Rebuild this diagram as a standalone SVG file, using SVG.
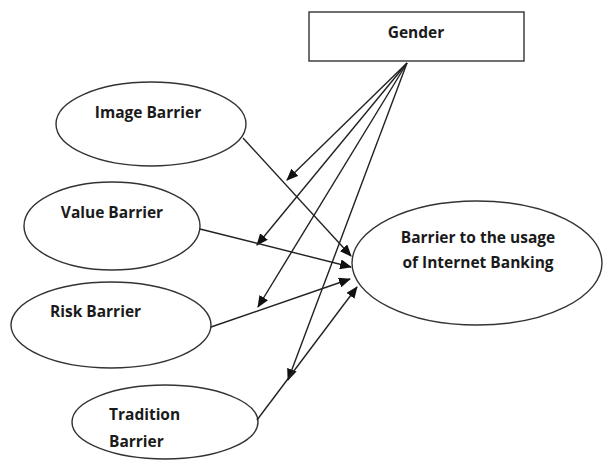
<svg xmlns="http://www.w3.org/2000/svg" width="603" height="460" viewBox="0 0 603 460">
<defs>
<style>
.shape{fill:#fff;stroke:#333;stroke-width:1.4}
.lbl{font-family:"Open Sans","Liberation Sans",sans-serif;font-weight:bold;font-size:15.5px;fill:#1a1a1a}
.conn line{stroke:#222;stroke-width:1.4;fill:none}
</style>
<marker id="ah" markerWidth="12" markerHeight="10" refX="11" refY="5" orient="auto" markerUnits="userSpaceOnUse">
<path d="M0,0 L12,5 L0,10 z" fill="#111"/>
</marker>
</defs>
<rect width="603" height="460" fill="#fff"/>
<g id="gender">
<rect class="shape" x="309" y="12" width="215" height="49"/>
<text class="lbl" x="416" y="38" text-anchor="middle">Gender</text>
</g>
<g id="image">
<ellipse class="shape" cx="151" cy="124" rx="95" ry="42"/>
<text class="lbl" x="148" y="118" text-anchor="middle">Image Barrier</text>
</g>
<g id="value">
<ellipse class="shape" cx="112" cy="226" rx="88" ry="44"/>
<text class="lbl" x="112" y="218" text-anchor="middle">Value Barrier</text>
</g>
<g id="risk">
<ellipse class="shape" cx="111" cy="325" rx="100" ry="43"/>
<text class="lbl" x="50" y="317">Risk Barrier</text>
</g>
<g id="tradition">
<ellipse class="shape" cx="165" cy="422" rx="93" ry="37"/>
<text class="lbl" x="109" y="420">Tradition</text>
<text class="lbl" x="109" y="447">Barrier</text>
</g>
<g id="usage">
<ellipse class="shape" cx="477" cy="263" rx="125" ry="62"/>
<text class="lbl" x="478" y="243" text-anchor="middle">Barrier to the usage</text>
<text class="lbl" x="478" y="268" text-anchor="middle">of Internet Banking</text>
</g>
<g class="conn" id="connectors">
<line x1="407" y1="63" x2="287" y2="180" marker-end="url(#ah)"/>
<line x1="407" y1="63" x2="257" y2="245" marker-end="url(#ah)"/>
<line x1="407" y1="63" x2="258" y2="307" marker-end="url(#ah)"/>
<line x1="407" y1="63" x2="288" y2="380" marker-end="url(#ah)"/>
<line x1="243" y1="138" x2="351" y2="256" marker-end="url(#ah)"/>
<line x1="200" y1="229" x2="351" y2="267" marker-end="url(#ah)"/>
<line x1="211" y1="327" x2="350" y2="279" marker-end="url(#ah)"/>
<line x1="257" y1="420" x2="357" y2="287" marker-end="url(#ah)"/>
</g>
</svg>
